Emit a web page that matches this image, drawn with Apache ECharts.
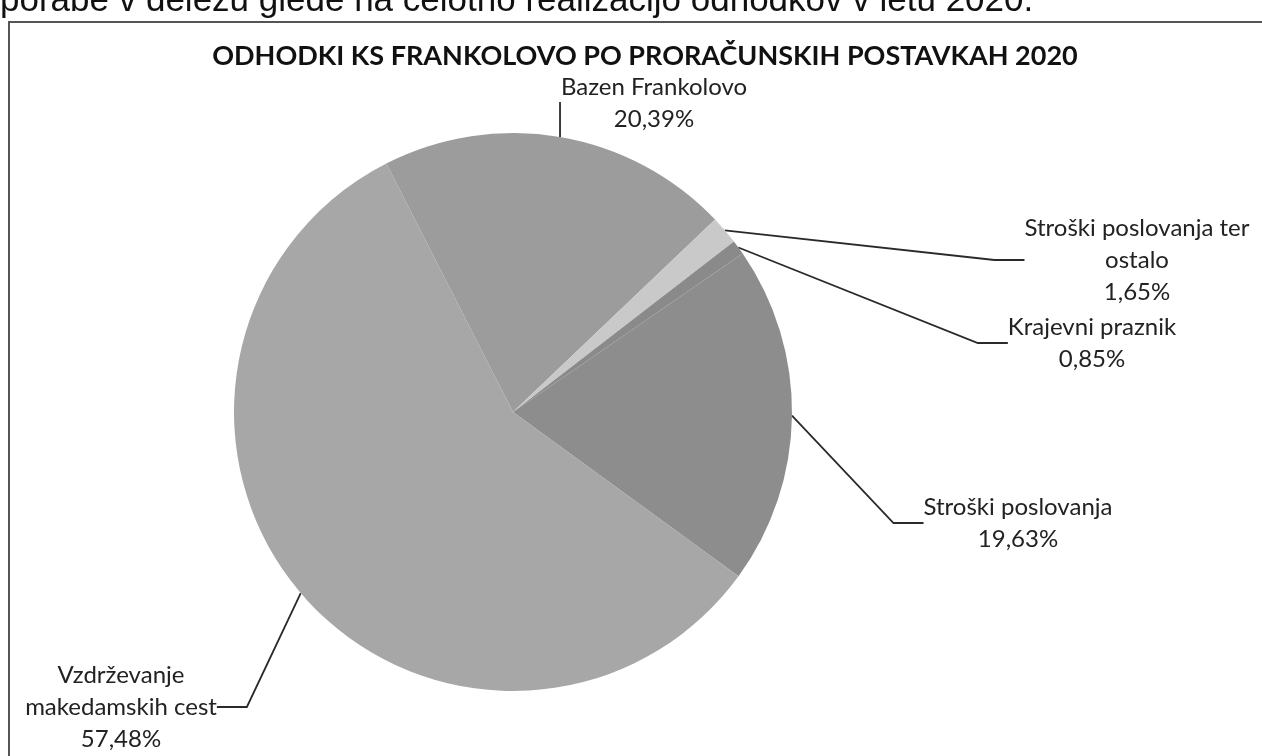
<!DOCTYPE html>
<html>
<head>
<meta charset="utf-8">
<style>
  html, body { margin: 0; padding: 0; background: #ffffff; }
  #chart { width: 1262px; height: 756px; }
</style>
<script src="https://cdn.jsdelivr.net/npm/echarts@6/dist/echarts.min.js"></script>
</head>
<body>
<div id="chart"></div>
<script>
// Budget items of KS Frankolovo, share of total expenditure in 2020 (percent)
const categories = [
  'Bazen Frankolovo',
  'Stroški poslovanja ter\nostalo',
  'Krajevni praznik',
  'Stroški poslovanja',
  'Vzdrževanje\nmakedamskih cest'
];
const shares = [20.39, 1.65, 0.85, 19.63, 57.48];
const sliceColors = ['#9c9c9c', '#c9c9c9', '#8a8a8a', '#8d8d8d', '#a7a7a7'];

// where each label block sits (centre x, top y)
const labelSpots = [
  { x: 654, y: 71 },
  { x: 1137, y: 212 },
  { x: 1092, y: 311 },
  { x: 1018, y: 491 },
  { x: 121, y: 659 }
];

const chart = echarts.init(document.getElementById('chart'));

const fmt = v => v.toFixed(2).replace('.', ',') + '%';

chart.setOption({
  animation: false,
  backgroundColor: '#ffffff',
  title: {
    text: 'ODHODKI KS FRANKOLOVO PO PRORAČUNSKIH POSTAVKAH 2020',
    left: 640,
    top: 38,
    textAlign: 'center',
    textStyle: {
      fontFamily: 'Lato',
      fontWeight: 'bold',
      fontSize: 27,
      color: '#111111'
    }
  },
  graphic: [
    {
      type: 'text',
      left: 0,
      top: -16,
      style: {
        text: 'porabe v deležu glede na celotno realizacijo odhodkov v letu 2020.',
        font: '35px "Liberation Sans"',
        fill: '#111111'
      }
    },
    {
      type: 'rect',
      shape: { x: 9, y: 22, width: 1300, height: 800 },
      style: { fill: 'none', stroke: '#555555', lineWidth: 2 }
    }
  ],
  series: [{
    type: 'pie',
    center: [513, 412],
    radius: 279,
    startAngle: 117,
    clockwise: true,
    avoidLabelOverlap: false,
    data: categories.map((name, i) => ({
      name,
      value: shares[i],
      itemStyle: { color: sliceColors[i] }
    })),
    itemStyle: { borderWidth: 0 },
    label: {
      show: true,
      formatter: p => p.name + '\n' + fmt(p.value),
      fontFamily: 'Lato',
      fontSize: 24,
      lineHeight: 32,
      color: '#222222',
      align: 'center'
    },
    labelLine: {
      show: true,
      lineStyle: { color: '#2a2a2a', width: 1.8 }
    },
    labelLayout: params => {
      const s = labelSpots[params.dataIndex];
      return { x: s.x, y: s.y, align: 'center', verticalAlign: 'top' };
    }
  }]
});
</script>
</body>
</html>
